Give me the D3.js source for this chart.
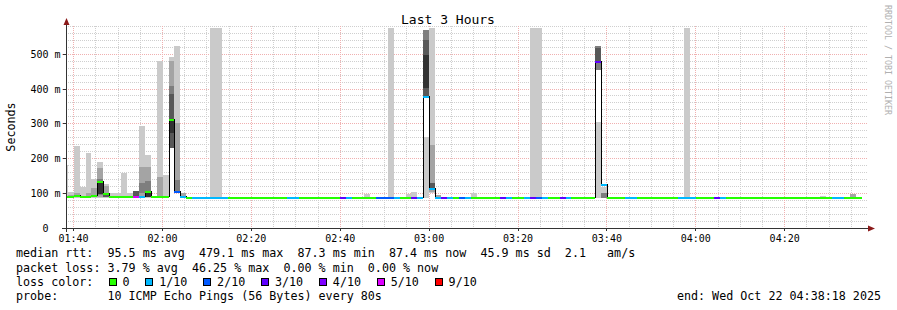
<!DOCTYPE html>
<html><head><meta charset="utf-8">
<script src="https://cdn.jsdelivr.net/npm/d3@7"></script>
<style>
html,body{margin:0;padding:0;background:#fff;}
svg{display:block;}
text{font-family:"DejaVu Sans Mono",monospace;white-space:pre;}
</style></head><body>
<svg id="c" width="897" height="310"></svg>
<script>
// ---------- data ----------
const graphStart = new Date(2025, 9, 22, 1, 38, 18);
const graphEnd   = new Date(2025, 9, 22, 4, 38, 18);
const firstStep  = new Date(2025, 9, 22, 1, 37, 22);
const stepSeconds = 80;

// median rtt (ms) per 80 s step
const median = [
 88, 88, 92, 88, 89, 93, 133, 99, 88, 87.9, 88, 88, 88.2, 88, 103, 88, 88, 88, 311, 104,
 88, 87.6, 87.5, 87.5, 87.6, 87.5, 87.5, 87.5, 87.4, 87.5, 87.5, 87.6, 87.5, 87.5, 87.5, 87.4, 87.5, 87.5, 87.5, 87.6,
 87.5, 87.5, 87.5, 87.4, 87.5, 87.5, 87.5, 87.6, 87.5, 87.5, 87.5, 87.5, 87.5, 87.6, 87.5, 87.5, 87.5, 87.5, 87.6, 87.5,
 87.5, 378, 113, 87.6, 87.5, 87.5, 87.5, 87.5, 87.4, 87.5, 87.5, 87.5, 87.5, 87.5, 87.6, 87.5, 87.5, 87.5, 87.5, 87.5,
 87.5, 87.5, 87.5, 87.5, 87.6, 87.5, 87.5, 87.5, 87.5, 87.5, 479.1, 123, 87.5, 87.5, 87.5, 87.5, 87.5, 87.5, 87.4, 87.5,
 87.5, 87.5, 87.5, 87.5, 87.5, 87.5, 87.5, 87.5, 87.5, 87.5, 87.6, 87.5, 87.5, 87.5, 87.5, 87.5, 87.3, 87.5, 87.5, 87.5,
 87.5, 87.5, 87.5, 87.5, 87.5, 87.5, 87.5, 87.5, 87.5, 87.5, 87.5, 87.5, 87.5, 87.5, 87.4
];
// lost pings (of 10) per step
const loss = [
 0,0,0,0,0,0,0,0,0,0,0,0, 5, 1, 0,0,0,0,0, 2, 1, 0, 1,1,1,1,1,1,
 0,0,0,0,0,0,0,0,0,0, 1,1, 0,0,0,0,0,0,0, 3, 1, 0,0,0,0, 2,2,2, 1, 0,0, 3, 1,1,1,1, 3, 1, 0, 2, 1,
 0,0,0,0,0, 3, 1, 0,0, 1, 3, 2, 1, 0,0, 3, 1, 0,0,0,0, 3, 1, 0,0,0, 1,1, 0,0,0,0,0,0,0, 1,1,1,
 0,0,0, 3, 1, 0,0,0,0,0,0,0,0,0,0,0,0,0,0,0,0,0,0, 1,1, 0,0,0
];
// smoke bands: step index, low (ms), high (ms), ping pair rank (1 = outermost ... 5 = innermost, 0 = gap)
const smokeStep = [0,1,1,2,2,3,4,4,5,5,6,6,6,6,7,7,7,8,9,10,11,12,13,13,13,14,14,14,14,16,16,17,18,18,18,18,18,18,19,19,19,20,25,26,51,55,58,59,61,61,61,61,61,62,62,62,63,69,79,80,90,90,90,90,91,91,105,128,133];
const smokeLow  = [88,86,87,87,89,87,87,88,87,88,87,90,95,98,87,90,88,87,87,87,87,89,87,90,100,87,90,100,90,87,88,87,87,230,230,230,273,87,104,104,106,88,87,87,87,87,87,87,87,263,263,403,263,100,105,110,88,87,87,87,87,455,478,306,87,87,87,87,88];
const smokeHigh = [180,104,95,236,101,119,217,100,140,114,191,172,140,131,127,121,95,100,100,159,102,107,294,177,130,210,177,135,100,482,148,153,491,481,409,386,311,230,523,302,138,101,575,575,97,575,99,103,569,569,542,499,374,575,239,129,96,100,575,575,523,523,518,455,118,100,575,92,98];
const smokePair = [1,1,2,1,2,1,1,2,1,2,1,2,3,5,1,2,4,1,1,1,1,4,1,2,3,1,2,3,5,1,2,1,1,2,3,4,5,0,1,2,3,2,1,1,1,1,1,1,1,3,4,5,0,1,2,4,2,1,1,1,1,3,4,0,1,3,1,1,2];

const lossLevels = [0, 1, 2, 3, 4, 5, 9];
const lossLabels = ["0", "1/10", "2/10", "3/10", "4/10", "5/10", "9/10"];
const lossColors = ["#26ff00", "#00b8ff", "#0059ff", "#5e00ff", "#7e00ff", "#dd00ff", "#ff0000"];
const smokeColors = ["#ffffff", "#cacaca", "#a4a4a4", "#7e7e7e", "#585858", "#323232"];

const yTicks = [0, 100, 200, 300, 400, 500];
const yTickLabels = ["0", "100 m", "200 m", "300 m", "400 m", "500 m"];
const titleText = "Last 3 Hours";
const yAxisTitle = "Seconds";
const statLines = [
 "median rtt:  95.5 ms avg  479.1 ms max  87.3 ms min  87.4 ms now  45.9 ms sd  2.1   am/s",
 "packet loss: 3.79 % avg  46.25 % max  0.00 % min  0.00 % now"
];
const lossColorLabel = "loss color:";
const probeText = "probe:       10 ICMP Echo Pings (56 Bytes) every 80s";
const endText = "end: Wed Oct 22 04:38:18 2025";
const creditText = "RRDTOOL / TOBI OETIKER";

// ---------- drawing ----------
const svg = d3.select("#c");
const P = {left: 66, right: 866, top: 26, bottom: 228};
const x = d3.scaleTime().domain([graphStart, graphEnd]).range([P.left, P.right]);
const y = d3.scaleLinear().domain([0, 581.5]).range([P.bottom, P.top]);
const stepTime = i => new Date(firstStep.getTime() + i * stepSeconds * 1000);
const crisp = v => Math.floor(v) + 0.5;

svg.append("rect").attr("width", 897).attr("height", 310).attr("fill", "#fff");

svg.append("defs").append("clipPath").attr("id", "clip")
  .append("rect").attr("x", P.left + 1).attr("y", P.top).attr("width", P.right - P.left + 2).attr("height", P.bottom - P.top);

// grid
const grid = svg.append("g").attr("shape-rendering", "crispEdges");
const minorY = d3.range(0, 581, 20).filter(v => v % 100 !== 0);
grid.selectAll(".hmin").data(minorY).join("line")
  .attr("x1", P.left).attr("x2", P.right + 2).attr("y1", d => crisp(y(d))).attr("y2", d => crisp(y(d)))
  .attr("stroke", "#cfcfcf").attr("stroke-dasharray", "1,1");
const minorX = d3.timeMinute.every(5).range(graphStart, graphEnd).filter(d => d.getMinutes() % 20 !== 0);
grid.selectAll(".vmin").data(minorX).join("line")
  .attr("x1", d => crisp(x(d))).attr("x2", d => crisp(x(d))).attr("y1", P.top).attr("y2", P.bottom)
  .attr("stroke", "#cfcfcf").attr("stroke-dasharray", "1,1");
grid.selectAll(".hmaj").data(yTicks.slice(1)).join("line")
  .attr("x1", P.left - 4).attr("x2", P.right + 2).attr("y1", d => crisp(y(d))).attr("y2", d => crisp(y(d)))
  .attr("stroke", "#f0b0b0").attr("stroke-dasharray", "1,1");
const majorX = d3.timeMinute.every(20).range(graphStart, graphEnd);
grid.selectAll(".vmaj").data(majorX).join("line")
  .attr("x1", d => crisp(x(d))).attr("x2", d => crisp(x(d))).attr("y1", P.top).attr("y2", P.bottom + 3)
  .attr("stroke", "#f0b0b0").attr("stroke-dasharray", "1,1");

// smoke
const plot = svg.append("g").attr("clip-path", "url(#clip)").attr("shape-rendering", "crispEdges");
const order = d3.range(smokeStep.length).sort((a, b) => {
  const ra = smokePair[a] === 0 ? 9 : smokePair[a], rb = smokePair[b] === 0 ? 9 : smokePair[b];
  return ra - rb || a - b;
});
plot.selectAll(".smoke").data(order).join("rect")
  .attr("x", j => Math.round(x(stepTime(smokeStep[j]))))
  .attr("width", j => Math.round(x(stepTime(smokeStep[j] + 1))) - Math.round(x(stepTime(smokeStep[j]))))
  .attr("y", j => Math.round(y(smokeHigh[j])))
  .attr("height", j => Math.round(y(smokeLow[j])) - Math.round(y(smokeHigh[j])))
  .attr("fill", j => smokeColors[smokePair[j]]);

// median step line
const pts = median.map((m, i) => [Math.round(x(stepTime(i))), Math.round(y(m)) - 0.5]);
pts.push([Math.round(x(stepTime(median.length))), Math.round(y(median[median.length - 1])) - 0.5]);
plot.append("path").attr("d", d3.line().curve(d3.curveStepAfter)(pts))
  .attr("fill", "none").attr("stroke", "#000").attr("stroke-width", 1);

// loss coloured median band
const lossColor = l => {
  const idx = lossLevels.findIndex(v => v >= l);
  return lossColors[idx < 0 ? lossColors.length - 1 : idx];
};
plot.selectAll(".med").data(median).join("rect")
  .attr("x", (m, i) => Math.round(x(stepTime(i))))
  .attr("width", (m, i) => Math.round(x(stepTime(i + 1))) - Math.round(x(stepTime(i))))
  .attr("y", m => Math.round(y(m)) - 1).attr("height", 2)
  .attr("fill", (m, i) => lossColor(loss[i]));

// axes
const axisCol = "#333";
const ax = svg.append("g").attr("shape-rendering", "crispEdges");
ax.append("line").attr("x1", 62).attr("x2", 869).attr("y1", 228.5).attr("y2", 228.5).attr("stroke", axisCol);
ax.append("line").attr("x1", 66.5).attr("x2", 66.5).attr("y1", 22).attr("y2", 232).attr("stroke", axisCol);
ax.selectAll(".yt").data(yTicks).join("line")
  .attr("x1", 63).attr("x2", 66).attr("y1", d => crisp(y(d))).attr("y2", d => crisp(y(d))).attr("stroke", axisCol);
ax.selectAll(".xt").data(majorX).join("line")
  .attr("x1", d => crisp(x(d))).attr("x2", d => crisp(x(d))).attr("y1", 228).attr("y2", 231).attr("stroke", axisCol);
svg.append("path").attr("d", "M63.5,25 L69.5,25 L66.5,18 Z").attr("fill", "#8b1a1a");
svg.append("path").attr("d", "M868,225.5 L868,231.5 L875,228.5 Z").attr("fill", "#8b1a1a");

// tick labels
svg.selectAll(".ylab").data(yTicks).join("text")
  .attr("x", (d, i) => i === 0 ? 48.5 : 60.5).attr("y", d => y(d) + 3.5)
  .attr("text-anchor", "end").attr("font-size", "10px").attr("fill", "#000")
  .text((d, i) => yTickLabels[i]);
svg.selectAll(".xlab").data(majorX).join("text")
  .attr("x", d => x(d)).attr("y", 241.5).attr("text-anchor", "middle")
  .attr("font-size", "10px").attr("fill", "#000").text(d => d3.timeFormat("%H:%M")(d));

// titles
svg.append("text").attr("x", 448).attr("y", 23.5).attr("text-anchor", "middle")
  .attr("font-size", "13px").attr("fill", "#000").text(titleText);
svg.append("text").attr("transform", "translate(15,127) rotate(-90)").attr("text-anchor", "middle")
  .attr("font-size", "11.7px").attr("fill", "#000").text(yAxisTitle);
svg.append("text").attr("transform", "translate(885,5) rotate(90)").attr("text-anchor", "start")
  .attr("font-size", "8.3px").attr("fill", "#b0b0b0").text(creditText);

// legend
const fs = 11.7, cw = fs * 0.60205;
svg.selectAll(".stat").data(statLines).join("text")
  .attr("x", 16).attr("y", (d, i) => 257.3 + i * 14.2).attr("font-size", fs + "px").attr("fill", "#000").text(d => d);
svg.append("text").attr("x", 16).attr("y", 285.7).attr("font-size", fs + "px").attr("fill", "#000").text(lossColorLabel);
let bx = 108.5;
lossLabels.forEach((lab, i) => {
  svg.append("rect").attr("x", Math.round(bx) + 0.5).attr("y", 278.5).attr("width", 7).attr("height", 7)
    .attr("fill", lossColors[i]).attr("stroke", "#000").attr("shape-rendering", "crispEdges");
  svg.append("text").attr("x", bx + 14).attr("y", 285.7).attr("font-size", fs + "px").attr("fill", "#000").text(lab);
  bx += 14 + lab.length * cw + 15.7;
});
svg.append("text").attr("x", 16).attr("y", 299.9).attr("font-size", fs + "px").attr("fill", "#000").text(probeText);
svg.append("text").attr("x", 881).attr("y", 299.9).attr("text-anchor", "end").attr("font-size", fs + "px").attr("fill", "#000").text(endText);
</script>
</body></html>
